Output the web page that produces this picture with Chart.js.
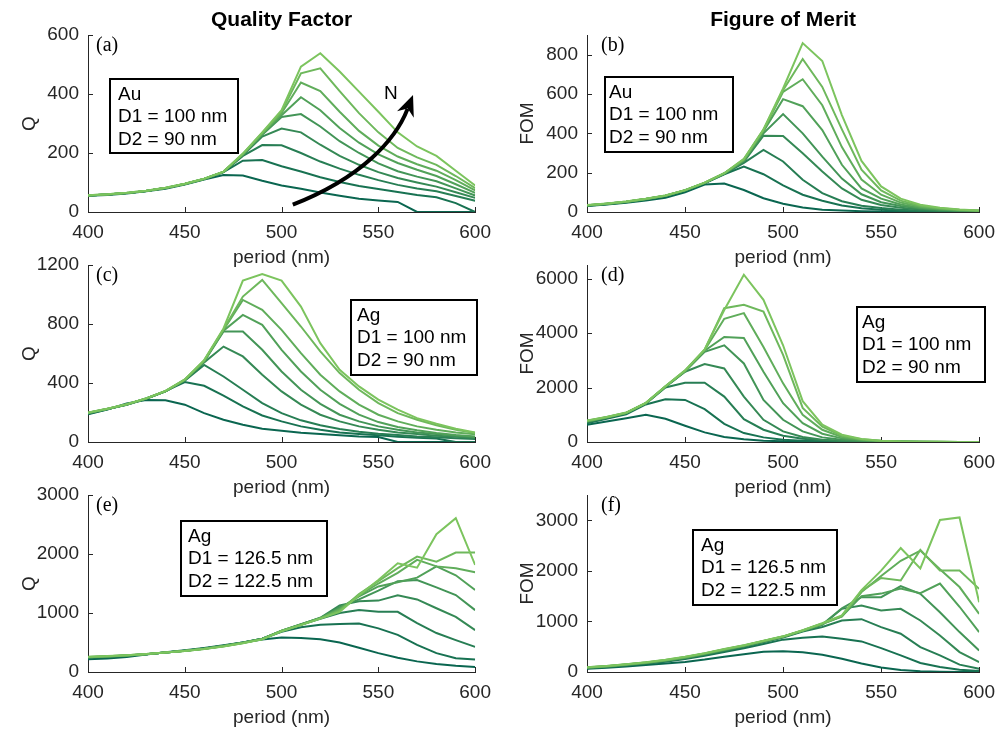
<!DOCTYPE html>
<html>
<head>
<meta charset="utf-8">
<script src="https://cdn.jsdelivr.net/npm/chart.js@4.4.1/dist/chart.umd.min.js"></script>
<style>
  body { margin: 0; background: #fff; width: 1004px; height: 732px; overflow: hidden; position: relative; }
  canvas { position: absolute; }
</style>
</head>
<body>
<canvas id="pa" width="500" height="272" style="left:0;top:0"></canvas>
<canvas id="pb" width="504" height="272" style="left:500px;top:0"></canvas>
<canvas id="pc" width="500" height="272" style="left:0;top:230px"></canvas>
<canvas id="pd" width="504" height="272" style="left:500px;top:230px"></canvas>
<canvas id="pe" width="500" height="272" style="left:0;top:460px"></canvas>
<canvas id="pf" width="504" height="272" style="left:500px;top:460px"></canvas>
<script>
// period axis (nm)
const periods = [400,410,420,430,440,450,460,470,480,490,500,510,520,530,540,550,560,570,580,590,600];
const xTicks = [400,450,500,550,600];

// y tick labels per panel
const ticksA = [0,200,400,600];
const ticksB = [0,200,400,600,800];
const ticksC = [0,400,800,1200];
const ticksD = [0,2000,4000,6000];
const ticksE = [0,1000,2000,3000];
const ticksF = [0,1000,2000,3000];

// (a) Q, Au, one row per N (dark -> light)
const qAu = [
  [55,58,63,70,79,93,110,125,124,106,90,79,66,55,45,39,34,0,0,0,0],
  [56,59,64,71,81,95,112,135,174,176,155,137,118,102,88,78,68,58,50,30,0],
  [56,59,64,71,81,95,112,135,190,227,226,200,171,147,126,108,92,80,70,54,38],
  [56,59,64,71,81,95,112,136,192,256,283,270,228,190,160,135,115,100,86,67,48],
  [56,59,64,71,81,95,112,136,194,262,322,332,290,240,200,165,138,120,104,80,56],
  [56,59,64,71,81,95,112,136,195,264,328,389,345,285,235,195,166,143,122,94,65],
  [56,59,64,71,81,95,112,136,196,266,335,439,410,340,275,225,188,162,140,108,73],
  [57,60,65,72,82,96,113,137,197,268,340,470,487,410,335,270,217,185,160,122,81],
  [57,60,65,72,82,96,113,137,198,270,345,493,538,476,408,340,270,222,190,140,90]
];
// (b) FOM, Au
const fomAu = [
  [30,38,47,58,72,100,140,145,112,70,42,23,12,8,4,2,1,1,1,0,0],
  [32,40,50,63,80,108,146,192,231,192,135,88,57,33,19,11,6,4,3,2,1],
  [33,41,51,65,82,109,147,194,250,316,257,164,96,55,32,20,12,8,5,3,2],
  [33,41,51,65,82,110,147,195,255,388,386,299,206,120,62,36,22,13,8,5,3],
  [33,42,52,66,83,110,148,195,260,400,498,400,282,170,90,50,30,18,11,7,4],
  [34,42,52,66,83,110,148,196,262,410,574,538,417,240,120,68,38,22,13,8,5],
  [34,42,52,66,83,111,148,196,265,415,611,675,543,330,165,88,48,27,16,10,6],
  [34,42,53,67,84,111,149,197,268,418,619,778,636,420,215,110,58,32,19,11,7],
  [35,43,53,67,84,111,149,197,270,420,628,859,768,493,260,130,68,37,22,13,8]
];
// (c) Q, Ag, D1 = 100 nm
const qAg = [
  [188,220,262,285,283,253,196,151,117,90,77,63,54,45,38,34,0,0,0,0,0],
  [192,222,255,295,345,406,381,314,241,180,140,106,83,65,54,45,36,29,23,0,0],
  [194,223,253,293,343,415,523,444,354,264,196,147,113,88,70,56,47,38,32,25,20],
  [195,223,253,293,343,418,540,647,580,456,343,253,185,140,106,83,65,54,43,36,27],
  [196,224,254,294,344,420,545,749,749,625,478,354,259,185,140,106,83,65,54,43,34],
  [197,224,254,294,344,421,548,755,862,794,625,478,354,259,185,135,102,79,61,47,38],
  [198,225,255,295,345,422,550,760,963,896,760,602,456,343,253,185,140,106,83,65,52],
  [199,225,255,295,345,423,552,765,986,1099,941,783,614,467,354,264,196,151,113,83,61],
  [200,226,256,296,346,424,555,770,1094,1139,1094,918,670,490,377,287,219,162,124,90,65]
];
// (d) FOM, Ag, D1 = 100 nm
const fomAg = [
  [633,754,876,998,852,596,353,182,97,49,24,12,6,3,2,1,0,0,0,0,0],
  [690,850,1020,1380,1570,1545,1204,669,328,170,85,49,24,12,6,3,2,1,0,0,0],
  [720,880,1050,1410,2000,2178,2178,1667,839,450,231,122,61,36,18,9,5,3,2,1,0],
  [740,890,1060,1420,2020,2580,2859,2700,1667,815,389,182,85,49,25,12,6,3,2,1,0],
  [750,900,1060,1420,2030,2590,3309,3552,2883,1545,815,389,170,85,49,24,12,6,3,2,1],
  [760,905,1065,1425,2035,2600,3350,3856,3820,2579,1423,693,304,134,61,30,15,7,4,2,1],
  [770,910,1070,1430,2040,2610,3370,4525,4732,3491,2153,1000,450,182,85,40,18,9,5,3,2],
  [780,915,1075,1435,2045,2620,3390,4915,5036,4793,3200,1250,560,230,100,45,20,10,6,3,2],
  [790,920,1080,1440,2050,2630,3400,4850,6143,5219,3552,1500,633,268,110,49,22,11,6,3,2]
];
// (e) Q, Ag, D1 = 126.5 nm
const qAg2 = [
  [215,227,255,295,334,368,408,453,499,550,584,578,556,500,410,320,240,180,135,105,85],
  [240,255,275,300,330,362,400,445,500,565,680,760,800,815,820,740,630,460,320,235,210],
  [245,258,277,300,330,362,400,445,500,565,690,800,900,1000,1049,1020,1020,830,660,540,425],
  [248,260,278,300,330,362,398,443,498,563,695,805,920,1130,1200,1210,1300,1230,1080,935,709],
  [250,262,280,300,330,360,396,441,496,561,700,810,915,1100,1230,1380,1540,1560,1434,1304,1049],
  [252,264,281,301,330,359,394,439,494,559,700,805,912,1080,1280,1450,1520,1600,1790,1640,1389],
  [254,266,282,302,330,358,392,437,492,557,698,800,910,1060,1300,1500,1680,1900,1790,1757,1689],
  [256,268,283,303,330,357,390,435,490,555,695,798,908,1040,1320,1540,1760,1956,1871,2024,2024],
  [258,270,285,304,330,356,388,433,488,553,690,795,905,1020,1300,1560,1842,1769,2336,2608,1814]
];
// (f) FOM, Ag, D1 = 126.5 nm
const fomAg2 = [
  [66,85,110,140,170,200,245,300,350,400,410,390,340,260,170,90,40,15,5,2,0],
  [75,100,130,165,205,255,320,395,470,555,640,677,703,657,605,473,329,177,99,46,20],
  [80,105,135,172,215,270,340,420,500,590,680,800,890,1019,1045,888,756,493,329,145,66],
  [83,108,140,177,222,278,350,432,510,600,690,810,930,1249,1315,1216,1249,1019,723,394,197],
  [86,111,143,180,226,283,356,438,515,605,695,815,940,1260,1480,1480,1700,1545,1183,789,427],
  [88,113,146,184,230,288,360,442,518,608,698,818,950,1100,1500,1550,1650,1560,1750,1290,789],
  [90,116,149,187,234,292,364,446,522,612,700,820,955,1100,1580,1900,2200,2400,2030,1680,1151],
  [92,118,152,190,237,296,368,450,526,615,702,822,960,1110,1600,1860,1810,2413,2005,2005,1644],
  [95,121,155,194,240,300,372,454,530,618,705,825,965,1120,1620,2005,2450,2050,3005,3057,1380]
];

// text in the boxes
const boxAu = ['Au', 'D1 = 100 nm', 'D2 = 90 nm'];
const boxAg = ['Ag', 'D1 = 100 nm', 'D2 = 90 nm'];
const boxAg2 = ['Ag', 'D1 = 126.5 nm', 'D2 = 122.5 nm'];

const SANS = '"Liberation Sans", Arial, Helvetica, sans-serif';
const SERIF = '"Liberation Serif", "Times New Roman", serif';
const AXIS = '#262626';

// dark green -> light green, one per N
const dark = [10, 102, 80], light = [124, 196, 94];
const colors = qAu.map((_, i) => {
  const t = i / (qAu.length - 1);
  const c = dark.map((d, k) => Math.round(d + (light[k] - d) * t));
  return `rgb(${c[0]},${c[1]},${c[2]})`;
});

// inward ticks, letter, info box, column title, arrow
const decor = {
  id: 'decor',
  beforeDatasetsDraw(chart) {
    const { ctx, chartArea: a, scales: { x, y } } = chart;
    ctx.save();
    ctx.strokeStyle = AXIS;
    ctx.lineWidth = 1;
    ctx.beginPath();
    x.ticks.forEach(t => {
      const p = Math.round(x.getPixelForValue(t.value)) + 0.5;
      ctx.moveTo(p, a.bottom);
      ctx.lineTo(p, a.bottom - 5);
    });
    y.ticks.forEach(t => {
      const p = Math.round(y.getPixelForValue(t.value)) + 0.5;
      ctx.moveTo(a.left, p);
      ctx.lineTo(a.left + 5, p);
    });
    ctx.stroke();
    ctx.restore();
  },
  afterDraw(chart, args, o) {
    const { ctx, chartArea: a, scales: { x, y } } = chart;
    ctx.save();
    ctx.fillStyle = '#000';
    if (o.colTitle) {
      ctx.font = 'bold 21px ' + SANS;
      ctx.textAlign = 'center';
      ctx.fillText(o.colTitle, (a.left + a.right) / 2, 26);
    }
    ctx.textAlign = 'left';
    ctx.font = '20px ' + SERIF;
    ctx.fillText(o.letter, a.left + o.letterDx, a.top + 16);

    const b = o.box;
    const bx = a.left + b.dx, by = a.top + b.dy;
    ctx.fillStyle = '#fff';
    ctx.fillRect(bx, by, b.w, b.h);
    ctx.strokeStyle = '#000';
    ctx.lineWidth = 2;
    ctx.strokeRect(bx, by, b.w, b.h);
    ctx.fillStyle = '#000';
    ctx.font = '19px ' + SANS;
    b.lines.forEach((s, i) => ctx.fillText(s, bx + b.pad, by + 20.5 + i * 22.5));

    if (o.arrow) {
      const p = o.arrow.path.map(([u, v]) => [x.getPixelForValue(u), y.getPixelForValue(v)]);
      const tip = p[3];
      let dx = tip[0] - p[2][0], dy = tip[1] - p[2][1];
      const len = Math.hypot(dx, dy);
      dx /= len; dy /= len;
      const L = 21, W = 9;
      const base = [tip[0] - dx * L, tip[1] - dy * L];
      ctx.strokeStyle = '#000';
      ctx.lineWidth = 4;
      ctx.beginPath();
      ctx.moveTo(p[0][0], p[0][1]);
      ctx.bezierCurveTo(p[1][0], p[1][1], p[2][0], p[2][1], base[0] + dx * 6, base[1] + dy * 6);
      ctx.stroke();
      ctx.beginPath();
      ctx.moveTo(tip[0], tip[1]);
      ctx.lineTo(base[0] - dy * W, base[1] + dx * W);
      ctx.lineTo(tip[0] - dx * L * 0.7, tip[1] - dy * L * 0.7);
      ctx.lineTo(base[0] + dy * W, base[1] - dx * W);
      ctx.closePath();
      ctx.fill();
      ctx.font = '19px ' + SANS;
      ctx.textAlign = 'center';
      ctx.textBaseline = 'middle';
      const [nu, nv] = o.arrow.label;
      ctx.fillText('N', x.getPixelForValue(nu), y.getPixelForValue(nv));
    }
    ctx.restore();
  }
};

function makePanel(id, rows, yTitle, yMax, yTicks, right, deco) {
  new Chart(document.getElementById(id), {
    type: 'line',
    data: {
      datasets: rows.map((row, i) => ({
        data: row.map((v, j) => ({ x: periods[j], y: v })),
        borderColor: colors[i],
        borderWidth: 2,
        pointRadius: 0,
        tension: 0,
        fill: false,
        order: rows.length - i
      }))
    },
    options: {
      responsive: false,
      animation: false,
      events: [],
      layout: { padding: { top: 35, right: right ? 19 : 13, bottom: 0, left: 0 } },
      plugins: { legend: { display: false }, tooltip: { enabled: false }, decor: deco },
      scales: {
        x: {
          type: 'linear',
          min: xTicks[0], max: xTicks[xTicks.length - 1],
          afterFit: s => { s.height = 60; },
          afterBuildTicks: s => { s.ticks = xTicks.map(v => ({ value: v })); },
          grid: { display: false, drawTicks: false },
          border: { display: true, color: AXIS, width: 1 },
          ticks: { padding: 9, color: AXIS, font: { family: SANS, size: 19 }, maxRotation: 0, autoSkip: false, callback: v => String(v) },
          title: { display: true, text: 'period (nm)', color: AXIS, font: { family: SANS, size: 19 }, padding: { top: 0, bottom: 3 } }
        },
        y: {
          min: 0, max: yMax,
          afterFit: s => { s.width = 87 + (right ? 0 : 1); },
          afterBuildTicks: s => { s.ticks = yTicks.map(v => ({ value: v })); },
          grid: { display: false, drawTicks: false },
          border: { display: true, color: AXIS, width: 1 },
          ticks: { padding: 9, color: AXIS, font: { family: SANS, size: 19 }, autoSkip: false, callback: v => String(v) },
          title: { display: true, text: yTitle, color: AXIS, font: { family: SANS, size: 19 }, padding: { top: right ? 16 : 18, bottom: 0 } }
        }
      }
    },
    plugins: [decor]
  });
}

makePanel('pa', qAu, 'Q', 600, ticksA, false, {
  colTitle: 'Quality Factor', letter: '(a)', letterDx: 8,
  box: { dx: 22, dy: 44, w: 128, h: 74, pad: 8, lines: boxAu },
  arrow: { path: [[505.8, 24.7], [541.4, 116.1], [558.9, 244.7], [567.9, 396.9]], label: [556.4, 402] }
});
makePanel('pb', fomAu, 'FOM', 900, ticksB, true, {
  colTitle: 'Figure of Merit', letter: '(b)', letterDx: 14,
  box: { dx: 18, dy: 42, w: 128, h: 75, pad: 4, lines: boxAu }
});
makePanel('pc', qAg, 'Q', 1200, ticksC, false, {
  letter: '(c)', letterDx: 8,
  box: { dx: 263, dy: 35, w: 126, h: 75, pad: 6, lines: boxAg }
});
makePanel('pd', fomAg, 'FOM', 6500, ticksD, true, {
  letter: '(d)', letterDx: 14,
  box: { dx: 270, dy: 42, w: 128, h: 75, pad: 5, lines: boxAg }
});
makePanel('pe', qAg2, 'Q', 3000, ticksE, false, {
  letter: '(e)', letterDx: 8,
  box: { dx: 93, dy: 26, w: 146, h: 75, pad: 7, lines: boxAg2 }
});
makePanel('pf', fomAg2, 'FOM', 3500, ticksF, true, {
  letter: '(f)', letterDx: 14,
  box: { dx: 106, dy: 35, w: 144, h: 75, pad: 8, lines: boxAg2 }
});
</script>
</body>
</html>
